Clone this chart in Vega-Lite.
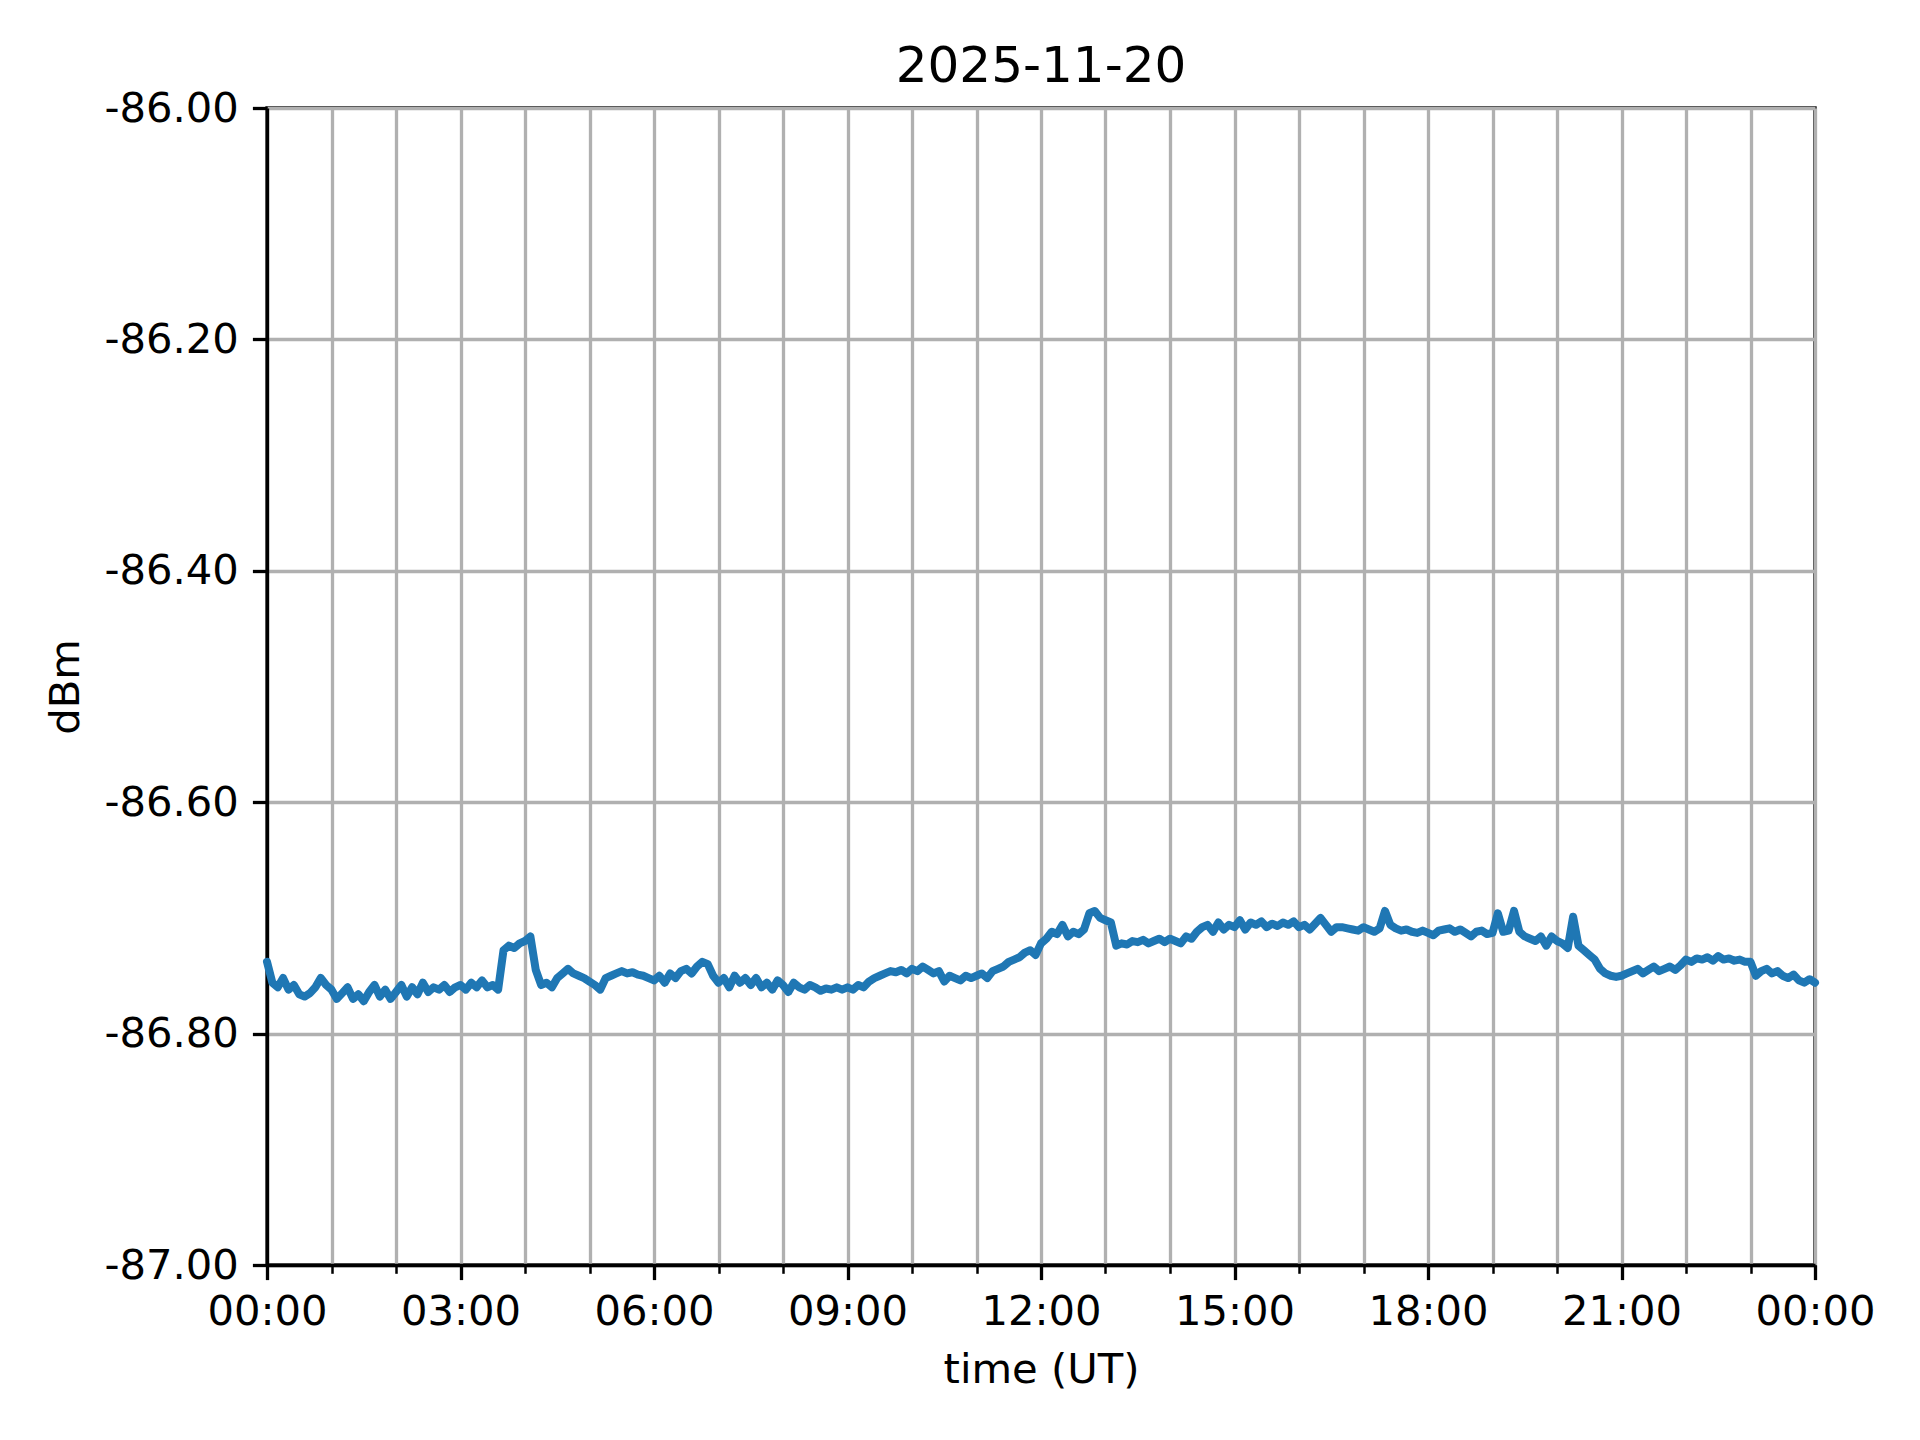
{
  "$schema": "https://vega.github.io/schema/vega-lite/v6.json",
  "width": 1548,
  "height": 1157,
  "autosize": "none",
  "padding": {"left": 267, "top": 108, "right": 105, "bottom": 175},
  "background": "white",
  "config": {"view": {"stroke": "black", "strokeWidth": 3.3}, "font": "DejaVu Sans"},
  "title": {"text": "2025-11-20", "fontSize": 50, "font": "DejaVu Sans", "fontWeight": "normal", "offset": -4, "color": "black", "anchor": "middle"},
  "data": {"values": [
    {"m":0,"v":-86.738},{"m":5,"v":-86.756},{"m":10,"v":-86.760},{"m":15,"v":-86.752},{"m":20,"v":-86.762},{"m":25,"v":-86.758},{"m":30,"v":-86.766},{"m":35,"v":-86.768},{"m":40,"v":-86.765},{"m":45,"v":-86.760},{"m":50,"v":-86.752},{"m":55,"v":-86.758},
    {"m":60,"v":-86.762},{"m":65,"v":-86.770},{"m":70,"v":-86.765},{"m":75,"v":-86.760},{"m":80,"v":-86.770},{"m":85,"v":-86.766},{"m":90,"v":-86.772},{"m":95,"v":-86.764},{"m":100,"v":-86.758},{"m":105,"v":-86.768},{"m":110,"v":-86.762},{"m":115,"v":-86.770},
    {"m":120,"v":-86.764},{"m":125,"v":-86.758},{"m":130,"v":-86.768},{"m":135,"v":-86.760},{"m":140,"v":-86.766},{"m":145,"v":-86.756},{"m":150,"v":-86.764},{"m":155,"v":-86.760},{"m":160,"v":-86.762},{"m":165,"v":-86.758},{"m":170,"v":-86.764},{"m":175,"v":-86.760},
    {"m":180,"v":-86.758},{"m":185,"v":-86.762},{"m":190,"v":-86.756},{"m":195,"v":-86.760},{"m":200,"v":-86.754},{"m":205,"v":-86.760},{"m":210,"v":-86.758},{"m":215,"v":-86.762},{"m":220,"v":-86.728},{"m":225,"v":-86.724},{"m":230,"v":-86.726},{"m":235,"v":-86.722},
    {"m":240,"v":-86.720},{"m":245,"v":-86.716},{"m":250,"v":-86.745},{"m":255,"v":-86.758},{"m":260,"v":-86.756},{"m":265,"v":-86.760},{"m":270,"v":-86.752},{"m":275,"v":-86.748},{"m":280,"v":-86.744},{"m":285,"v":-86.748},{"m":290,"v":-86.750},{"m":295,"v":-86.752},
    {"m":300,"v":-86.755},{"m":305,"v":-86.758},{"m":310,"v":-86.762},{"m":315,"v":-86.752},{"m":320,"v":-86.750},{"m":325,"v":-86.748},{"m":330,"v":-86.746},{"m":335,"v":-86.748},{"m":340,"v":-86.747},{"m":345,"v":-86.749},{"m":350,"v":-86.750},{"m":355,"v":-86.752},
    {"m":360,"v":-86.754},{"m":365,"v":-86.750},{"m":370,"v":-86.756},{"m":375,"v":-86.748},{"m":380,"v":-86.752},{"m":385,"v":-86.746},{"m":390,"v":-86.744},{"m":395,"v":-86.748},{"m":400,"v":-86.742},{"m":405,"v":-86.738},{"m":410,"v":-86.740},{"m":415,"v":-86.750},
    {"m":420,"v":-86.756},{"m":425,"v":-86.752},{"m":430,"v":-86.760},{"m":435,"v":-86.750},{"m":440,"v":-86.756},{"m":445,"v":-86.752},{"m":450,"v":-86.758},{"m":455,"v":-86.752},{"m":460,"v":-86.760},{"m":465,"v":-86.756},{"m":470,"v":-86.762},{"m":475,"v":-86.754},
    {"m":480,"v":-86.758},{"m":485,"v":-86.764},{"m":490,"v":-86.756},{"m":495,"v":-86.760},{"m":500,"v":-86.762},{"m":505,"v":-86.758},{"m":510,"v":-86.760},{"m":515,"v":-86.763},{"m":520,"v":-86.761},{"m":525,"v":-86.762},{"m":530,"v":-86.760},{"m":535,"v":-86.762},
    {"m":540,"v":-86.760},{"m":545,"v":-86.762},{"m":550,"v":-86.758},{"m":555,"v":-86.760},{"m":560,"v":-86.755},{"m":565,"v":-86.752},{"m":570,"v":-86.750},{"m":575,"v":-86.748},{"m":580,"v":-86.746},{"m":585,"v":-86.747},{"m":590,"v":-86.745},{"m":595,"v":-86.748},
    {"m":600,"v":-86.744},{"m":605,"v":-86.746},{"m":610,"v":-86.742},{"m":615,"v":-86.745},{"m":620,"v":-86.748},{"m":625,"v":-86.746},{"m":630,"v":-86.755},{"m":635,"v":-86.750},{"m":640,"v":-86.752},{"m":645,"v":-86.754},{"m":650,"v":-86.750},{"m":655,"v":-86.752},
    {"m":660,"v":-86.750},{"m":665,"v":-86.748},{"m":670,"v":-86.752},{"m":675,"v":-86.746},{"m":680,"v":-86.744},{"m":685,"v":-86.742},{"m":690,"v":-86.738},{"m":695,"v":-86.736},{"m":700,"v":-86.734},{"m":705,"v":-86.730},{"m":710,"v":-86.728},{"m":715,"v":-86.732},
    {"m":720,"v":-86.722},{"m":725,"v":-86.718},{"m":730,"v":-86.712},{"m":735,"v":-86.714},{"m":740,"v":-86.706},{"m":745,"v":-86.716},{"m":750,"v":-86.712},{"m":755,"v":-86.714},{"m":760,"v":-86.710},{"m":765,"v":-86.696},{"m":770,"v":-86.694},{"m":775,"v":-86.700},
    {"m":780,"v":-86.702},{"m":785,"v":-86.704},{"m":790,"v":-86.724},{"m":795,"v":-86.722},{"m":800,"v":-86.723},{"m":805,"v":-86.720},{"m":810,"v":-86.721},{"m":815,"v":-86.719},{"m":820,"v":-86.722},{"m":825,"v":-86.720},{"m":830,"v":-86.718},{"m":835,"v":-86.721},
    {"m":840,"v":-86.718},{"m":845,"v":-86.720},{"m":850,"v":-86.722},{"m":855,"v":-86.716},{"m":860,"v":-86.718},{"m":865,"v":-86.712},{"m":870,"v":-86.708},{"m":875,"v":-86.706},{"m":880,"v":-86.712},{"m":885,"v":-86.704},{"m":890,"v":-86.710},{"m":895,"v":-86.706},
    {"m":900,"v":-86.708},{"m":905,"v":-86.702},{"m":910,"v":-86.710},{"m":915,"v":-86.704},{"m":920,"v":-86.706},{"m":925,"v":-86.703},{"m":930,"v":-86.708},{"m":935,"v":-86.705},{"m":940,"v":-86.707},{"m":945,"v":-86.704},{"m":950,"v":-86.706},{"m":955,"v":-86.703},
    {"m":960,"v":-86.708},{"m":965,"v":-86.706},{"m":970,"v":-86.710},{"m":975,"v":-86.705},{"m":980,"v":-86.700},{"m":985,"v":-86.706},{"m":990,"v":-86.712},{"m":995,"v":-86.708},{"m":1000,"v":-86.708},{"m":1005,"v":-86.709},{"m":1010,"v":-86.710},{"m":1015,"v":-86.711},
    {"m":1020,"v":-86.708},{"m":1025,"v":-86.710},{"m":1030,"v":-86.712},{"m":1035,"v":-86.709},{"m":1040,"v":-86.694},{"m":1045,"v":-86.706},{"m":1050,"v":-86.709},{"m":1055,"v":-86.711},{"m":1060,"v":-86.710},{"m":1065,"v":-86.712},{"m":1070,"v":-86.713},{"m":1075,"v":-86.711},
    {"m":1080,"v":-86.713},{"m":1085,"v":-86.715},{"m":1090,"v":-86.711},{"m":1095,"v":-86.710},{"m":1100,"v":-86.709},{"m":1105,"v":-86.712},{"m":1110,"v":-86.710},{"m":1115,"v":-86.713},{"m":1120,"v":-86.716},{"m":1125,"v":-86.712},{"m":1130,"v":-86.711},{"m":1135,"v":-86.714},
    {"m":1140,"v":-86.713},{"m":1145,"v":-86.696},{"m":1150,"v":-86.712},{"m":1155,"v":-86.711},{"m":1160,"v":-86.694},{"m":1165,"v":-86.712},{"m":1170,"v":-86.716},{"m":1175,"v":-86.718},{"m":1180,"v":-86.720},{"m":1185,"v":-86.716},{"m":1190,"v":-86.724},{"m":1195,"v":-86.716},
    {"m":1200,"v":-86.720},{"m":1205,"v":-86.722},{"m":1210,"v":-86.726},{"m":1215,"v":-86.699},{"m":1220,"v":-86.724},{"m":1225,"v":-86.728},{"m":1230,"v":-86.732},{"m":1235,"v":-86.736},{"m":1240,"v":-86.744},{"m":1245,"v":-86.748},{"m":1250,"v":-86.750},{"m":1255,"v":-86.751},
    {"m":1260,"v":-86.750},{"m":1265,"v":-86.748},{"m":1270,"v":-86.746},{"m":1275,"v":-86.744},{"m":1280,"v":-86.748},{"m":1285,"v":-86.745},{"m":1290,"v":-86.742},{"m":1295,"v":-86.746},{"m":1300,"v":-86.744},{"m":1305,"v":-86.742},{"m":1310,"v":-86.745},{"m":1315,"v":-86.741},
    {"m":1320,"v":-86.736},{"m":1325,"v":-86.738},{"m":1330,"v":-86.735},{"m":1335,"v":-86.736},{"m":1340,"v":-86.734},{"m":1345,"v":-86.737},{"m":1350,"v":-86.733},{"m":1355,"v":-86.736},{"m":1360,"v":-86.735},{"m":1365,"v":-86.737},{"m":1370,"v":-86.736},{"m":1375,"v":-86.738},
    {"m":1380,"v":-86.738},{"m":1385,"v":-86.750},{"m":1390,"v":-86.746},{"m":1395,"v":-86.744},{"m":1400,"v":-86.748},{"m":1405,"v":-86.746},{"m":1410,"v":-86.750},{"m":1415,"v":-86.752},{"m":1420,"v":-86.749},{"m":1425,"v":-86.754},{"m":1430,"v":-86.756},{"m":1435,"v":-86.753},
    {"m":1440,"v":-86.756}
  ]},
  "layer": [
    {
      "mark": {"type": "line", "opacity": 0},
      "encoding": {
        "x": {"field": "m", "type": "quantitative", "scale": {"domain": [0, 1440], "nice": false, "zero": false},
          "axis": {"orient": "bottom", "values": [0,60,120,180,240,300,360,420,480,540,600,660,720,780,840,900,960,1020,1080,1140,1200,1260,1320,1380,1440],
            "grid": true, "gridColor": "#b0b0b0", "gridWidth": 3.3, "gridOpacity": 1,
            "ticks": true, "tickSize": 8.3, "tickWidth": 2.5, "tickColor": "black",
            "labels": false, "domain": false, "title": null}},
        "y": {"field": "v", "type": "quantitative", "scale": {"domain": [-87, -86], "nice": false, "zero": false},
          "axis": {"values": [-87, -86.8, -86.6, -86.4, -86.2, -86],
            "grid": true, "gridColor": "#b0b0b0", "gridWidth": 3.3, "gridOpacity": 1,
            "ticks": true, "tickSize": 14.6, "tickWidth": 3.3, "tickColor": "black",
            "domain": true, "domainColor": "black", "domainWidth": 3.3,
            "labelExpr": "replace(format(datum.value, '.2f'), '\u2212', '-')",
            "labelFontSize": 41.7, "labelColor": "black", "labelPadding": 14, "labelFont": "DejaVu Sans",
            "title": "dBm", "titleFontSize": 41.7, "titleFontWeight": "normal", "titleColor": "black", "titlePadding": 17, "titleFont": "DejaVu Sans"}}
      }
    },
    {
      "mark": {"type": "line", "color": "#1f77b4", "strokeWidth": 8, "strokeJoin": "round", "strokeCap": "round"},
      "encoding": {
        "x": {"field": "m", "type": "quantitative", "scale": {"domain": [0, 1440], "nice": false, "zero": false},
          "axis": {"orient": "bottom", "values": [0,180,360,540,720,900,1080,1260,1440],
            "grid": false, "ticks": true, "tickSize": 14.6, "tickWidth": 3.3, "tickColor": "black",
            "domain": true, "domainColor": "black", "domainWidth": 3.3,
            "labelExpr": "(floor(datum.value/60)%24 < 10 ? '0' : '') + (floor(datum.value/60)%24) + ':00'",
            "labelFontSize": 41.7, "labelColor": "black", "labelPadding": 12, "labelFlush": false, "labelOverlap": false, "labelFont": "DejaVu Sans",
            "title": "time (UT)", "titleFontSize": 41.7, "titleFontWeight": "normal", "titleColor": "black", "titlePadding": 16, "titleFont": "DejaVu Sans"}},
        "y": {"field": "v", "type": "quantitative", "scale": {"domain": [-87, -86], "nice": false, "zero": false},
          "axis": {"values": [-87, -86.8, -86.6, -86.4, -86.2, -86],
            "grid": true, "gridColor": "#b0b0b0", "gridWidth": 3.3, "gridOpacity": 1,
            "ticks": true, "tickSize": 14.6, "tickWidth": 3.3, "tickColor": "black",
            "domain": true, "domainColor": "black", "domainWidth": 3.3,
            "labelExpr": "replace(format(datum.value, '.2f'), '\u2212', '-')",
            "labelFontSize": 41.7, "labelColor": "black", "labelPadding": 14, "labelFont": "DejaVu Sans",
            "title": "dBm", "titleFontSize": 41.7, "titleFontWeight": "normal", "titleColor": "black", "titlePadding": 17, "titleFont": "DejaVu Sans"}}
      }
    }
  ],
  "resolve": {"axis": {"x": "independent"}}
}
